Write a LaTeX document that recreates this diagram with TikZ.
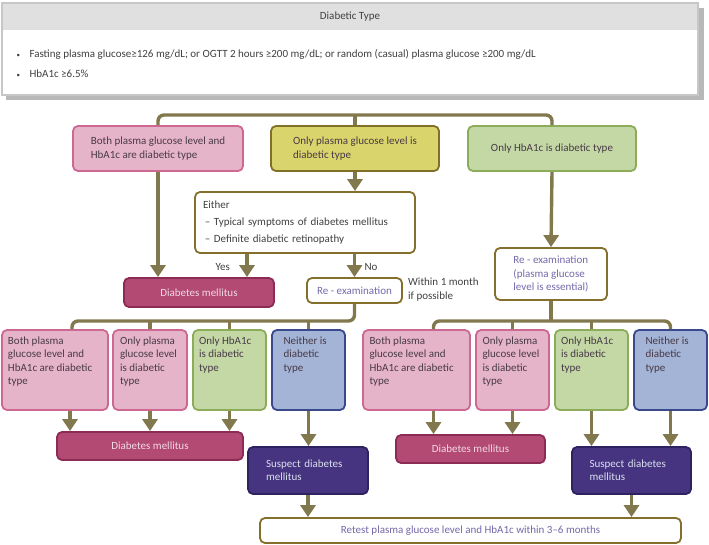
\documentclass[tikz,border=0pt]{standalone}
\usepackage{fontspec}
\setmainfont{Carlito}
\usepackage{xcolor}
\usetikzlibrary{arrows.meta}

\definecolor{flowline}{RGB}{130,120,78}
\definecolor{pinkfill}{RGB}{230,180,200}
\definecolor{pinkdraw}{RGB}{204,104,146}
\definecolor{yelfill}{RGB}{218,212,108}
\definecolor{yeldraw}{RGB}{130,112,40}
\definecolor{grnfill}{RGB}{196,216,166}
\definecolor{grndraw}{RGB}{140,172,90}
\definecolor{blufill}{RGB}{163,180,214}
\definecolor{bludraw}{RGB}{58,72,140}
\definecolor{dmfill}{RGB}{178,74,116}
\definecolor{dmdraw}{RGB}{140,44,84}
\definecolor{susfill}{RGB}{70,52,128}
\definecolor{susdraw}{RGB}{46,34,96}
\definecolor{whdraw}{RGB}{132,112,44}
\definecolor{purtext}{RGB}{118,104,170}
\definecolor{boxtext}{RGB}{72,58,70}

\newcommand{\cell}[2]{\parbox[c][66pt][t]{#1}{\raggedright #2}}

\begin{document}
\begin{tikzpicture}[x=1pt,y=-1pt,font=\fontsize{11}{13.3}\selectfont,
                    box/.style={rectangle,rounded corners=5pt,line width=1.8pt,inner sep=3pt,text=boxtext},
                    pink box/.style={box,fill=pinkfill,draw=pinkdraw},
                    yellow box/.style={box,fill=yelfill,draw=yeldraw},
                    green box/.style={box,fill=grnfill,draw=grndraw},
                    blue box/.style={box,fill=blufill,draw=bludraw},
                    dm box/.style={box,fill=dmfill,draw=dmdraw,text=pinkfill!50},
                    suspect box/.style={box,fill=susfill,draw=susdraw,text=blufill!40,align=left,text width=84pt},
                    white box/.style={box,fill=white,draw=whdraw,text=purtext},
                    cell box/.style={inner sep=0pt,minimum height=80pt},
                    arr/.style={draw=flowline,line width=3.4pt,-{Triangle[width=15pt,length=12pt]}},
                    bus/.style={draw=flowline,line width=3.4pt,rounded corners=6pt}]

    \useasboundingbox (0,0) rectangle (709,544);

    % criteria header
    \fill[black!28] (6,8) rectangle (704,100);
    \draw[black!22,line width=2.5pt,fill=white] (2,3) rectangle (698,95);
    \fill[black!12] (3.3,4.3) rectangle (696.7,30);
    \node[text=black!75] (title) at (350,17) {Diabetic Type};
    \node[anchor=west,text=black!75] (crit1) at (13,54)
        {\makebox[13pt][l]{\scriptsize\textbullet}Fasting plasma glucose≥126 mg/dL; or OGTT 2 hours ≥200 mg/dL; or random (casual) plasma glucose ≥200 mg/dL};
    \node[anchor=west,text=black!75] (crit2) at (13,74)
        {\makebox[13pt][l]{\scriptsize\textbullet}HbA1c ≥6.5\%};

    \node[pink box, minimum width=170, minimum height=45, align=left] (both) at (158,148.5)
        {Both plasma glucose level and\\HbA1c are diabetic type};
    \node[yellow box, minimum width=168, minimum height=45, align=left] (onlypg) at (355,148.5)
        {Only plasma glucose level is\\diabetic type};
    \node[green box, minimum width=168, minimum height=45] (onlyhb) at (552,148.5)
        {Only HbA1c is diabetic type};

    \node[white box, text=black!75, minimum width=220, minimum height=61, align=left, text width=204pt] (either) at (305,222.5)
        {Either\\[4pt]\,– Typical symptoms of diabetes mellitus\\[4pt]\,– Definite diabetic retinopathy};

    \node[dm box, minimum width=150, minimum height=29] (dmA) at (199,292.5) {Diabetes mellitus};
    \node[white box, minimum width=95, minimum height=25] (reexL) at (354.5,290.5) {Re - examination};
    \node[anchor=north west, align=left, text=black!75, inner sep=0pt] (within) at (408,278)
        {Within 1 month\\if possible};
    \node[white box, minimum width=112, minimum height=52, align=left] (reexR) at (551,274)
        {Re - examination\\(plasma glucose\\level is essential)};

    \node[pink box, cell box, minimum width=106] (l1) at (55,370)
        {\cell{94pt}{Both plasma\\glucose level and\\HbA1c are diabetic\\type}};
    \node[pink box, cell box, minimum width=74] (l2) at (150,370)
        {\cell{60pt}{Only plasma\\glucose level\\is diabetic\\type}};
    \node[green box, cell box, minimum width=73] (l3) at (229.5,370)
        {\cell{61pt}{Only HbA1c\\is diabetic\\type}};
    \node[blue box, cell box, minimum width=73] (l4) at (308.5,370)
        {\cell{50pt}{Neither is\\diabetic\\type}};

    \node[pink box, cell box, minimum width=107] (r1) at (416.5,370)
        {\cell{94pt}{Both plasma\\glucose level and\\HbA1c are diabetic\\type}};
    \node[pink box, cell box, minimum width=73] (r2) at (512.5,370)
        {\cell{60pt}{Only plasma\\glucose level\\is diabetic\\type}};
    \node[green box, cell box, minimum width=73] (r3) at (591.5,370)
        {\cell{61pt}{Only HbA1c\\is diabetic\\type}};
    \node[blue box, cell box, minimum width=73] (r4) at (670.5,370)
        {\cell{50pt}{Neither is\\diabetic\\type}};

    \node[dm box, minimum width=186, minimum height=28] (dmL) at (150,446) {Diabetes mellitus};
    \node[dm box, minimum width=149, minimum height=28] (dmR) at (470.5,449) {Diabetes mellitus};
    \node[suspect box, minimum width=120, minimum height=47] (suspL) at (308,470.5) {Suspect diabetes\\mellitus};
    \node[suspect box, minimum width=119, minimum height=47] (suspR) at (631.5,470.5) {Suspect diabetes\\mellitus};
    \node[white box, minimum width=421, minimum height=25] (retest) at (470.5,530.5)
        {Retest plasma glucose level and HbA1c within 3–6 months};

    \coordinate (topbus) at (0,115);
    \coordinate (busL) at (0,321);
    \coordinate (busR) at (0,321);
    \coordinate (l1top) at ([xshift=17pt]l1.north);
    \coordinate (r1top) at ([xshift=17pt]r1.north);
    \coordinate (l1bot) at ([xshift=15pt]l1.south);
    \coordinate (r1bot) at ([xshift=17pt]r1.south);
    \coordinate (yes) at ([xshift=-58pt]either.south);

    \draw[bus] (both.north) |- (topbus -| onlyhb.north) -- (onlyhb.north);
    \draw[bus] (onlypg.north) -- (onlypg.north |- topbus);
    \draw[bus] (l1top) |- (busL -| reexL.south) -- (reexL.south);
    \draw[bus] (l2.north) -- (l2.north |- busL);
    \draw[bus] (l3.north) -- (l3.north |- busL);
    \draw[bus] (l4.north) -- (l4.north |- busL);
    \draw[bus] (r1top) |- (busR -| r4.north) -- (r4.north);
    \draw[bus] (r2.north) -- (r2.north |- busR);
    \draw[bus] (r3.north) -- (r3.north |- busR);
    \draw[bus] (reexR.south) -- (reexR.south |- busR);

    \draw[arr] (both.south) -- (both.south |- dmA.north);
    \draw[arr] (onlypg.south) -- (onlypg.south |- either.north);
    \draw[arr] (onlyhb.south) -- (reexR.north);
    \draw[arr] (yes) -- (yes |- dmA.north) node[pos=0.55, left=12pt, text=black!75] (yeslbl) {Yes};
    \draw[arr] (either.south -| reexL.north) -- (reexL.north) node[pos=0.55, right=5pt, text=black!75] (nolbl) {No};

    \draw[arr] (l1bot) -- (l1bot |- dmL.north);
    \draw[arr] (l2.south) -- (l2.south |- dmL.north);
    \draw[arr] (l3.south) -- (l3.south |- dmL.north);
    \draw[arr] (l4.south) -- (l4.south |- suspL.north);
    \draw[arr] (r1bot) -- (r1bot |- dmR.north);
    \draw[arr] (r2.south) -- (r2.south |- dmR.north);
    \draw[arr] (r3.south) -- (r3.south |- suspR.north);
    \draw[arr] (r4.south) -- (r4.south |- suspR.north);
    \draw[arr] (suspL.south) -- (suspL.south |- retest.north);
    \draw[arr] (suspR.south) -- (suspR.south |- retest.north);
\end{tikzpicture}
\end{document}
